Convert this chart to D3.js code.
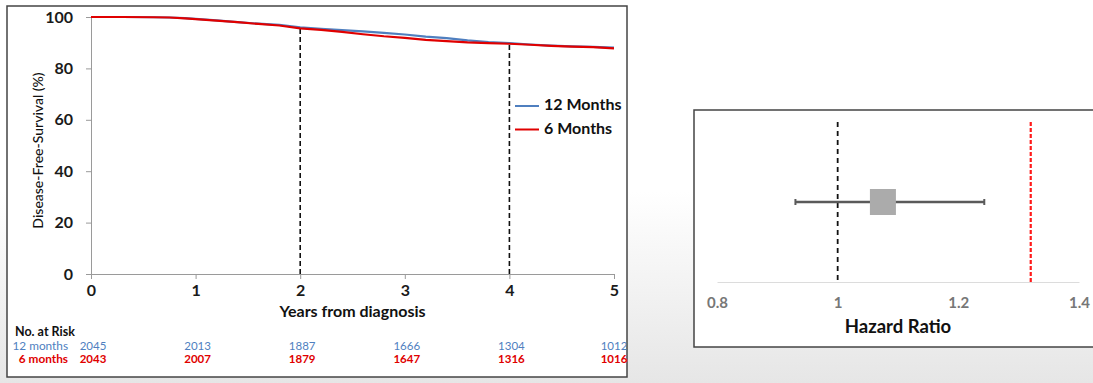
<!DOCTYPE html>
<html>
<head>
<meta charset="utf-8">
<script src="https://cdn.jsdelivr.net/npm/d3@7"></script>
<style>
  html, body { margin: 0; padding: 0; }
  body { width: 1093px; height: 383px; overflow: hidden; }
  svg { display: block; font-family: Lato, "Open Sans", "DejaVu Sans", sans-serif; }
</style>
</head>
<body>
<svg id="chart" width="1093" height="383"></svg>
<script>
// ---- Kaplan-Meier curves (disease-free survival, %) ----
const years      = [0, 0.3, 0.6, 0.75, 0.9, 1.0, 1.2, 1.4, 1.6, 1.8, 2.0, 2.2, 2.4, 2.6, 2.8, 3.0, 3.2, 3.4, 3.6, 3.8, 4.0, 4.2, 4.4, 4.6, 4.8, 5.0];
const dfs12      = [100, 100, 99.9, 99.8, 99.6, 99.3, 98.7, 98.0, 97.4, 96.9, 96.0, 95.4, 94.9, 94.4, 93.8, 93.2, 92.4, 91.8, 90.9, 90.2, 89.8, 89.3, 88.9, 88.6, 88.4, 88.1];
const dfs6       = [100, 100, 99.9, 99.8, 99.5, 99.2, 98.6, 98.0, 97.3, 96.7, 95.6, 95.0, 94.2, 93.3, 92.5, 91.9, 91.1, 90.6, 90.1, 89.8, 89.6, 89.2, 88.8, 88.5, 88.3, 87.8];
const seriesNames = ["12 Months", "6 Months"];
const markerYears = [2, 4];

// ---- Number at risk ----
const riskYears  = [0, 1, 2, 3, 4, 5];
const risk12     = [2045, 2013, 1887, 1666, 1304, 1012];
const risk6      = [2043, 2007, 1879, 1647, 1316, 1016];
const riskLabels = ["12 months", "6 months"];

// ---- Axis ticks ----
const yearTicks = [0, 1, 2, 3, 4, 5];
const dfsTicks  = [0, 20, 40, 60, 80, 100];

// ---- Hazard ratio (12 vs 6 months) ----
const hrPoint  = 1.075;
const hrLower  = 0.93;
const hrUpper  = 1.243;
const hrMargin = 1.32;
const hrTicks  = [0.8, 1, 1.2, 1.4];

const BLUE = "#4f7fbf", RED = "#e00000";
const svg = d3.select("#chart");

// page background
const defs = svg.append("defs");
const grad = defs.append("linearGradient").attr("id", "bg").attr("x1", 0).attr("y1", 0).attr("x2", 0).attr("y2", 1);
grad.append("stop").attr("offset", "0%").attr("stop-color", "#ffffff");
grad.append("stop").attr("offset", "50%").attr("stop-color", "#ffffff");
grad.append("stop").attr("offset", "100%").attr("stop-color", "#e6e6e6");
svg.append("rect").attr("width", 1093).attr("height", 383).attr("fill", "url(#bg)");

// ================= Left panel: survival curves =================
svg.append("rect").attr("x", 7).attr("y", 6).attr("width", 620).attr("height", 371)
  .attr("fill", "#fff").attr("stroke", "#444").attr("stroke-width", 1.5);

const x = d3.scaleLinear().domain([0, 5]).range([91, 614]);
const y = d3.scaleLinear().domain([0, 100]).range([274, 17]);

const yAxis = svg.append("g").attr("transform", `translate(${x(0)},0)`)
  .call(d3.axisLeft(y).tickValues(dfsTicks).tickSize(5).tickSizeOuter(0).tickPadding(13));
const xAxis = svg.append("g").attr("transform", `translate(0,${y(0)})`)
  .call(d3.axisBottom(x).tickValues(yearTicks).tickFormat(d3.format("d"))
    .tickSize(5).tickSizeOuter(0).tickPadding(6));
[yAxis, xAxis].forEach(g => {
  g.select(".domain").attr("stroke", "#9a9a9a");
  g.selectAll(".tick line").attr("stroke", "#9a9a9a");
  g.selectAll(".tick text").attr("fill", "#1a1a1a").attr("font-weight", "bold")
    .attr("font-size", 16).attr("font-family", "Lato, sans-serif");
});

// dashed reference lines at 2 and 4 years
svg.append("g").selectAll("line").data(markerYears).join("line")
  .attr("x1", d => x(d)).attr("x2", d => x(d))
  .attr("y1", y(0))
  .attr("y2", d => y(dfs12[years.indexOf(d)]))
  .attr("stroke", "#111").attr("stroke-width", 1.6).attr("stroke-dasharray", "5,3");

// curves
const line = d3.line().x(d => x(d[0])).y(d => y(d[1]));
svg.append("path").datum(years.map((t, i) => [t, dfs12[i]]))
  .attr("d", line).attr("fill", "none").attr("stroke", BLUE).attr("stroke-width", 2.2);
svg.append("path").datum(years.map((t, i) => [t, dfs6[i]]))
  .attr("d", line).attr("fill", "none").attr("stroke", RED).attr("stroke-width", 2.2);

// axis titles
svg.append("text").attr("x", x(2.5)).attr("y", 313).attr("text-anchor", "middle")
  .attr("dominant-baseline", "middle").attr("font-size", 16).attr("font-weight", "bold")
  .attr("fill", "#111").text("Years from diagnosis");
svg.append("text").attr("transform", `translate(39,${y(50) + 5}) rotate(-90)`)
  .attr("text-anchor", "middle").attr("dominant-baseline", "middle")
  .attr("font-size", 14).attr("font-weight", 500).attr("fill", "#111").text("Disease-Free-Survival (%)");

// legend
const legend = svg.append("g");
[BLUE, RED].forEach((c, i) => {
  const ly = 106 + i * 23.5;
  legend.append("line").attr("x1", 515).attr("x2", 539).attr("y1", ly).attr("y2", ly)
    .attr("stroke", c).attr("stroke-width", 2);
  legend.append("text").attr("x", 544).attr("y", ly).attr("dominant-baseline", "middle")
    .attr("font-size", 16).attr("font-weight", "bold").attr("fill", "#111").text(seriesNames[i]);
});

// number at risk table
svg.append("text").attr("x", 15).attr("y", 333).attr("dominant-baseline", "middle")
  .attr("font-size", 12.5).attr("font-weight", "bold").attr("fill", "#111").text("No. at Risk");
svg.append("text").attr("x", 68).attr("y", 347).attr("text-anchor", "end").attr("dominant-baseline", "middle")
  .attr("font-size", 11.8).attr("fill", BLUE).text(riskLabels[0]);
svg.append("text").attr("x", 68).attr("y", 360).attr("text-anchor", "end").attr("dominant-baseline", "middle")
  .attr("font-size", 11.8).attr("font-weight", "bold").attr("fill", RED).text(riskLabels[1]);
[[risk12, BLUE, "normal", 347], [risk6, RED, "bold", 360]].forEach(([vals, c, w, ry]) => {
  svg.append("g").selectAll("text").data(vals).join("text")
    .attr("x", (d, i) => Math.min(x(riskYears[i]) + 2, 614))
    .attr("y", ry).attr("text-anchor", "middle").attr("dominant-baseline", "middle")
    .attr("font-size", 11.5).attr("font-weight", w).attr("fill", c).text(d => d);
});

// ================= Right panel: hazard ratio =================
svg.append("rect").attr("x", 694).attr("y", 110).attr("width", 410).attr("height", 237)
  .attr("fill", "#fff").attr("stroke", "#444").attr("stroke-width", 1.5);

const hx = d3.scaleLinear().domain([0.8, 1.4]).range([717, 1079]);
const rowY = 202;
const baseY = 282;

const hrAxis = svg.append("g").attr("transform", `translate(0,${baseY})`)
  .call(d3.axisBottom(hx).tickValues(hrTicks).tickSize(0).tickSizeOuter(0).tickPadding(15)
    .tickFormat(d3.format("")));
hrAxis.select(".domain").attr("stroke", "#dcdcdc");
hrAxis.selectAll(".tick text").attr("fill", "#777").attr("font-weight", "bold")
  .attr("font-size", 15).attr("font-family", "Lato, sans-serif");

// reference line at HR = 1 and non-inferiority margin
svg.append("line").attr("x1", hx(1)).attr("x2", hx(1)).attr("y1", 122).attr("y2", baseY)
  .attr("stroke", "#111").attr("stroke-width", 1.8).attr("stroke-dasharray", "5,4");
svg.append("line").attr("x1", hx(hrMargin)).attr("x2", hx(hrMargin)).attr("y1", 122).attr("y2", baseY)
  .attr("stroke", "#ff1a1a").attr("stroke-width", 2.2).attr("stroke-dasharray", "4,2");

// confidence interval
svg.append("line").attr("x1", hx(hrLower)).attr("x2", hx(hrUpper)).attr("y1", rowY).attr("y2", rowY)
  .attr("stroke", "#5a5a5a").attr("stroke-width", 2.5);
[hrLower, hrUpper].forEach(v => {
  svg.append("line").attr("x1", hx(v)).attr("x2", hx(v)).attr("y1", rowY - 3).attr("y2", rowY + 3)
    .attr("stroke", "#5a5a5a").attr("stroke-width", 2);
});
// point estimate
svg.append("rect").attr("x", hx(hrPoint) - 13).attr("y", rowY - 13).attr("width", 26).attr("height", 26)
  .attr("fill", "#ababab");

svg.append("text").attr("x", 898).attr("y", 328).attr("text-anchor", "middle").attr("dominant-baseline", "middle")
  .attr("font-size", 18.5).attr("font-weight", "bold").attr("fill", "#111").text("Hazard Ratio");
</script>
</body>
</html>
